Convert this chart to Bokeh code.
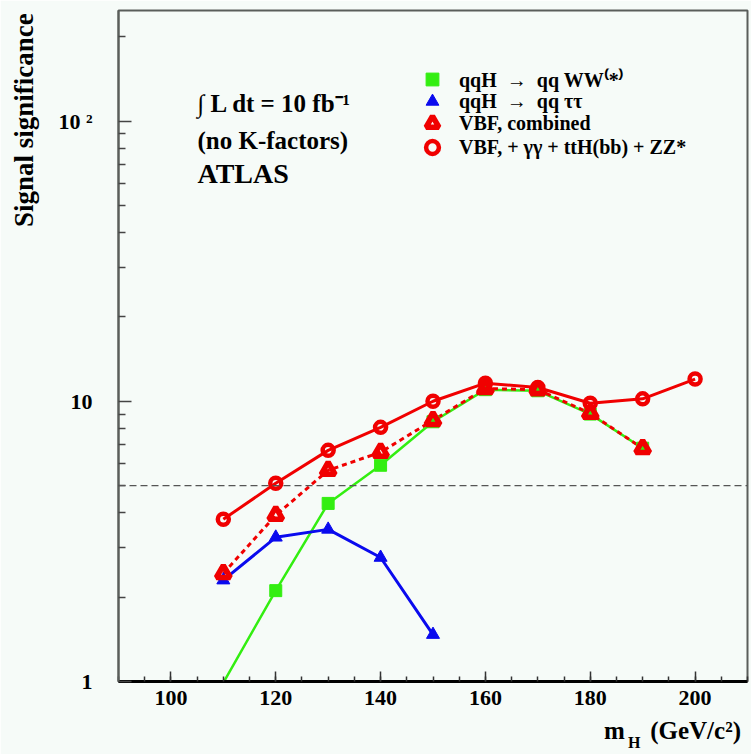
from bokeh.plotting import figure
from bokeh.models import (Range1d, FixedTicker, Span, Label, Legend, LegendItem,
                          LinearAxis, LogAxis)
from bokeh.embed import file_html
from bokeh.resources import INLINE

# ---- data ----
mass_ww = [110, 120, 130, 140, 150, 160, 170, 180, 190]
sig_ww = [0.99, 2.11, 4.32, 5.91, 8.45, 11.0, 10.9, 9.0, 6.8]

mass_tau = [110, 120, 130, 140, 150]
sig_tau = [2.30, 3.27, 3.49, 2.77, 1.47]

mass_vbf = [110, 120, 130, 140, 150, 160, 170, 180, 190]
sig_vbf = [2.43, 3.92, 5.67, 6.58, 8.55, 11.1, 11.0, 9.06, 6.79]

mass_all = [110, 120, 130, 140, 150, 160, 170, 180, 190, 200]
sig_all = [3.79, 5.10, 6.68, 8.07, 10.0, 11.6, 11.2, 9.84, 10.2, 12.0]

discovery_level = 5.0

x_major = [100, 120, 140, 160, 180, 200]
x_minor = list(range(90, 211, 5))
y_major = [1, 10, 100]
y_minor = [2, 3, 4, 5, 6, 7, 8, 9, 20, 30, 40, 50, 60, 70, 80, 90, 200]
y_labels = {1: "1", 10: "10", 100: "10 \u00b2"}

legend_labels = ["qqH  \u2192  qq WW\u207d*\u207e",
                 "qqH  \u2192  qq \u03c4\u03c4",
                 "VBF, combined",
                 "VBF, + \u03b3\u03b3 + ttH(bb) + ZZ*"]
legend_rows_px = [79, 101, 123, 147]   # row centres, px from top

# title positions (data coords along the axes)
ytitle_pos = 100.8
xtitle_pos = {184.6: "m", 200.1: "(GeV/c\u00b2)"}
xsub_pos = {188.4: "H"}

# ---- style ----
BG = "#f6fbf8"
GREEN = "#33ee11"
BLUE = "#0a0aee"
RED = "#f00000"
FONT = "Liberation Serif"
W, H = 751, 754
FL, FR, FT, FB = 118, 4, 10, 73

p = figure(width=W, height=H, y_axis_type="log",
           x_range=Range1d(90, 210), y_range=Range1d(1, 248),
           output_backend="svg", toolbar_location=None,
           min_border_left=FL, min_border_right=FR,
           min_border_top=FT, min_border_bottom=FB)
p.background_fill_color = BG
p.border_fill_color = BG
p.outline_line_color = "#5a5e5b"
p.outline_line_width = 2
p.grid.visible = False

xa = p.xaxis[0]
xa.ticker = FixedTicker(ticks=x_major, minor_ticks=x_minor)
xa.axis_line_color = "black"
xa.axis_line_width = 3
xa.major_tick_in = 10
xa.major_tick_out = 0
xa.minor_tick_in = 5
xa.minor_tick_out = 0
xa.major_tick_line_color = "#333333"
xa.minor_tick_line_color = "#333333"
xa.major_tick_line_width = 1.5
xa.minor_tick_line_width = 1.5
xa.major_label_text_font = FONT
xa.major_label_text_font_style = "bold"
xa.major_label_text_font_size = "22px"
xa.major_label_text_color = "black"
xa.major_label_standoff = 9

ya = p.yaxis[0]
ya.ticker = FixedTicker(ticks=y_major, minor_ticks=y_minor)
ya.major_label_overrides = y_labels
ya.axis_line_color = "#5a5e5b"
ya.axis_line_width = 2
ya.major_tick_in = 13
ya.major_tick_out = 0
ya.minor_tick_in = 7
ya.minor_tick_out = 0
ya.major_tick_line_color = "#444444"
ya.minor_tick_line_color = "#444444"
ya.major_tick_line_width = 1.5
ya.minor_tick_line_width = 1.5
ya.major_label_text_font = FONT
ya.major_label_text_font_style = "bold"
ya.major_label_text_font_size = "22px"
ya.major_label_text_color = "black"
ya.major_label_standoff = 26


def title_axis(axis, ticks, labels, size, standoff, orientation="horizontal"):
    axis.ticker = FixedTicker(ticks=ticks, minor_ticks=[])
    axis.major_label_overrides = labels
    axis.axis_line_color = None
    axis.major_tick_line_color = None
    axis.minor_tick_line_color = None
    axis.major_tick_in = 0
    axis.major_tick_out = 0
    axis.major_label_text_font = FONT
    axis.major_label_text_font_style = "bold"
    axis.major_label_text_font_size = size
    axis.major_label_text_color = "black"
    axis.major_label_standoff = standoff
    axis.major_label_orientation = orientation
    return axis


# y title: label of an extra (line-less) axis left of the tick labels
yt = LogAxis()
title_axis(yt, [ytitle_pos], {ytitle_pos: "Signal significance"}, "27px", 16,
           orientation="vertical")
p.add_layout(yt, "left")

# x title: "m", "(GeV/c^2)" and the subscript "H" on extra axes below
xt = LinearAxis()
title_axis(xt, list(xtitle_pos.keys()), xtitle_pos, "25px", 9)
p.add_layout(xt, "below")
xs = LinearAxis()
title_axis(xs, list(xsub_pos.keys()), xsub_pos, "16px", -13)
p.add_layout(xs, "below")

# discovery line
p.add_layout(Span(location=discovery_level, dimension="width",
                  line_color="#555555", line_width=1.2, line_dash="7 4"))

# curves
p.line(mass_ww, sig_ww, line_color=GREEN, line_width=2.5)
p.line(mass_tau, sig_tau, line_color=BLUE, line_width=3)
p.line(mass_vbf, sig_vbf, line_color=RED, line_width=3, line_dash="5 4")
p.line(mass_all, sig_all, line_color=RED, line_width=3)

# markers
vis_ww = [(m, s) for m, s in zip(mass_ww, sig_ww) if s >= 1]
r_ww = p.scatter([m for m, s in vis_ww], [s for m, s in vis_ww], marker="square",
                 size=12, fill_color=GREEN, line_color=GREEN)
r_tau = p.scatter(mass_tau, sig_tau, marker="triangle", size=13,
                  fill_color=BLUE, line_color=BLUE)
r_vbf = p.scatter(mass_vbf, sig_vbf, marker="triangle", size=14,
                  fill_color=None, line_color=RED, line_width=5.5)
r_all = p.scatter(mass_all, sig_all, marker="circle", size=11,
                  fill_color=None, line_color=RED, line_width=4.5)

frame_h = H - FT - FB
for lab, rend, row in zip(legend_labels, [r_ww, r_tau, r_vbf, r_all], legend_rows_px):
    p.add_layout(Legend(items=[LegendItem(label=lab, renderers=[rend])],
                        location=(298, frame_h - (row - FT) - 16),
                        glyph_width=32, glyph_height=32, label_height=20,
                        label_standoff=11, padding=0, margin=0, spacing=0,
                        background_fill_alpha=0, border_line_alpha=0,
                        label_text_font=FONT, label_text_font_style="bold",
                        label_text_font_size="20px", label_text_color="black",
                        label_text_baseline="middle"))


def add_text(txt, x, y, size):
    p.add_layout(Label(x=x, y=y, x_units="screen", y_units="screen", text=txt,
                       text_font=FONT, text_font_style="bold",
                       text_font_size=size, text_color="black",
                       text_baseline="middle"))


add_text("\u222b L dt = 10 fb\u207b\u00b9", 79, frame_h - (103 - FT), "25px")
add_text("(no K-factors)", 79, frame_h - (140 - FT), "25px")
add_text("ATLAS", 79, frame_h - (173 - FT), "28px")

open("out.html", "w").write(file_html(p, INLINE))
